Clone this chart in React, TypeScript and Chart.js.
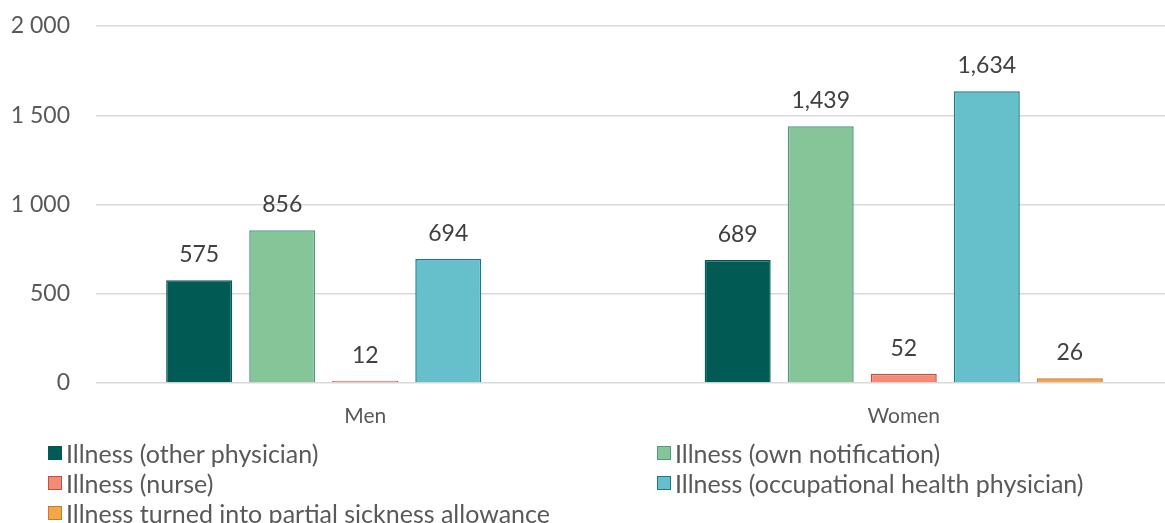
import React, { useEffect, useRef } from "react";
import { Chart, registerables } from "chart.js";

Chart.register(...registerables);

const categories = ["Men", "Women"];
const seriesLabels = [
  "Illness (other physician)",
  "Illness (own notification)",
  "Illness (nurse)",
  "Illness (occupational health physician)",
  "Illness turned into partial sickness allowance",
];
const otherPhysician = [575, 689];
const ownNotification = [856, 1439];
const nurse = [12, 52];
const occupational = [694, 1634];
const partial = [null, 26];
const yTicks = [0, 500, 1000, 1500, 2000];

const fills = ["#025A55", "#86C597", "#F28C78", "#65C0CB", "#F5A54A"];
const borders = ["#025A55", "#4E9A84", "#C4503A", "#1D7A8E", "#C97A2A"];
const FONT = "Lato, 'Open Sans', sans-serif";
const TEXT = "#595959";

const fmtSpace = (v: number) => String(v).replace(/\B(?=(\d{3})+(?!\d))/g, " ");
const fmtComma = (v: number) => String(v).replace(/\B(?=(\d{3})+(?!\d))/g, ",");

const dataLabels = {
  id: "dataLabels",
  afterDatasetsDraw(chart: any) {
    const ctx = chart.ctx;
    ctx.save();
    ctx.font = `23px ${FONT}`;
    ctx.fillStyle = "#404040";
    ctx.textAlign = "center";
    ctx.textBaseline = "alphabetic";
    chart.data.datasets.forEach((ds: any, i: number) => {
      const meta = chart.getDatasetMeta(i);
      meta.data.forEach((bar: any, j: number) => {
        const v = ds.data[j];
        if (v === null || v === undefined) return;
        ctx.fillText(fmtComma(v), bar.x, bar.y - 18);
      });
    });
    ctx.restore();
  },
};

export default function App() {
  const ref = useRef<HTMLCanvasElement>(null);
  useEffect(() => {
    document.body.style.margin = "0";
    document.body.style.overflow = "hidden";
    const series = [otherPhysician, ownNotification, nurse, occupational, partial];
    const chart = new Chart(ref.current!, {
      type: "bar",
      data: {
        labels: categories,
        datasets: series.map((d, i) => ({
          label: seriesLabels[i],
          data: d as any,
          backgroundColor: fills[i],
          borderColor: borders[i],
          borderWidth: 1.5,
          categoryPercentage: 0.771,
          barPercentage: 0.795,
        })),
      },
      options: {
        responsive: false,
        maintainAspectRatio: false,
        animation: false,
        layout: { padding: { top: 26, right: 0, bottom: 0, left: 0 } },
        plugins: { legend: { display: false }, tooltip: { enabled: false } },
        scales: {
          x: {
            grid: { display: false },
            border: { display: false },
            ticks: { color: TEXT, font: { family: FONT, size: 21 }, padding: 13 },
            afterFit: (s: any) => {
              s.height = 140;
              s.paddingLeft = 0;
              s.paddingRight = 0;
            },
          },
          y: {
            min: 0,
            max: 2000,
            afterBuildTicks: (s: any) => {
              s.ticks = yTicks.map((v) => ({ value: v }));
            },
            grid: { color: "#D9D9D9", lineWidth: 1.5, drawTicks: false },
            border: { display: false },
            ticks: {
              color: TEXT,
              font: { family: FONT, size: 23 },
              padding: 26,
              callback: (v: any) => fmtSpace(Number(v)),
            },
            afterFit: (s: any) => {
              s.width = 96;
              s.paddingTop = 0;
              s.paddingBottom = 0;
            },
          },
        },
      },
      plugins: [dataLabels],
    });
    return () => chart.destroy();
  }, []);

  const item = (i: number) => (
    <div key={i} style={{ display: "flex", alignItems: "center", height: 30 }}>
      <span
        style={{
          display: "inline-block",
          width: 12,
          height: 12,
          background: fills[i],
          border: `1.5px solid ${borders[i]}`,
          marginRight: 4,
        }}
      />
      <span>{seriesLabels[i]}</span>
    </div>
  );

  return (
    <div style={{ position: "relative", width: 1165, height: 523, overflow: "hidden" }}>
      <canvas ref={ref} width={1173} height={523} style={{ display: "block" }} />
      <div
        style={{
          position: "absolute",
          top: 438,
          left: 48,
          width: 1117,
          display: "grid",
          gridTemplateColumns: "609px auto",
          fontFamily: FONT,
          fontSize: 25,
          color: TEXT,
          lineHeight: "30px",
        }}
      >
        {item(0)}
        {item(1)}
        {item(2)}
        {item(3)}
        {item(4)}
      </div>
    </div>
  );
}
